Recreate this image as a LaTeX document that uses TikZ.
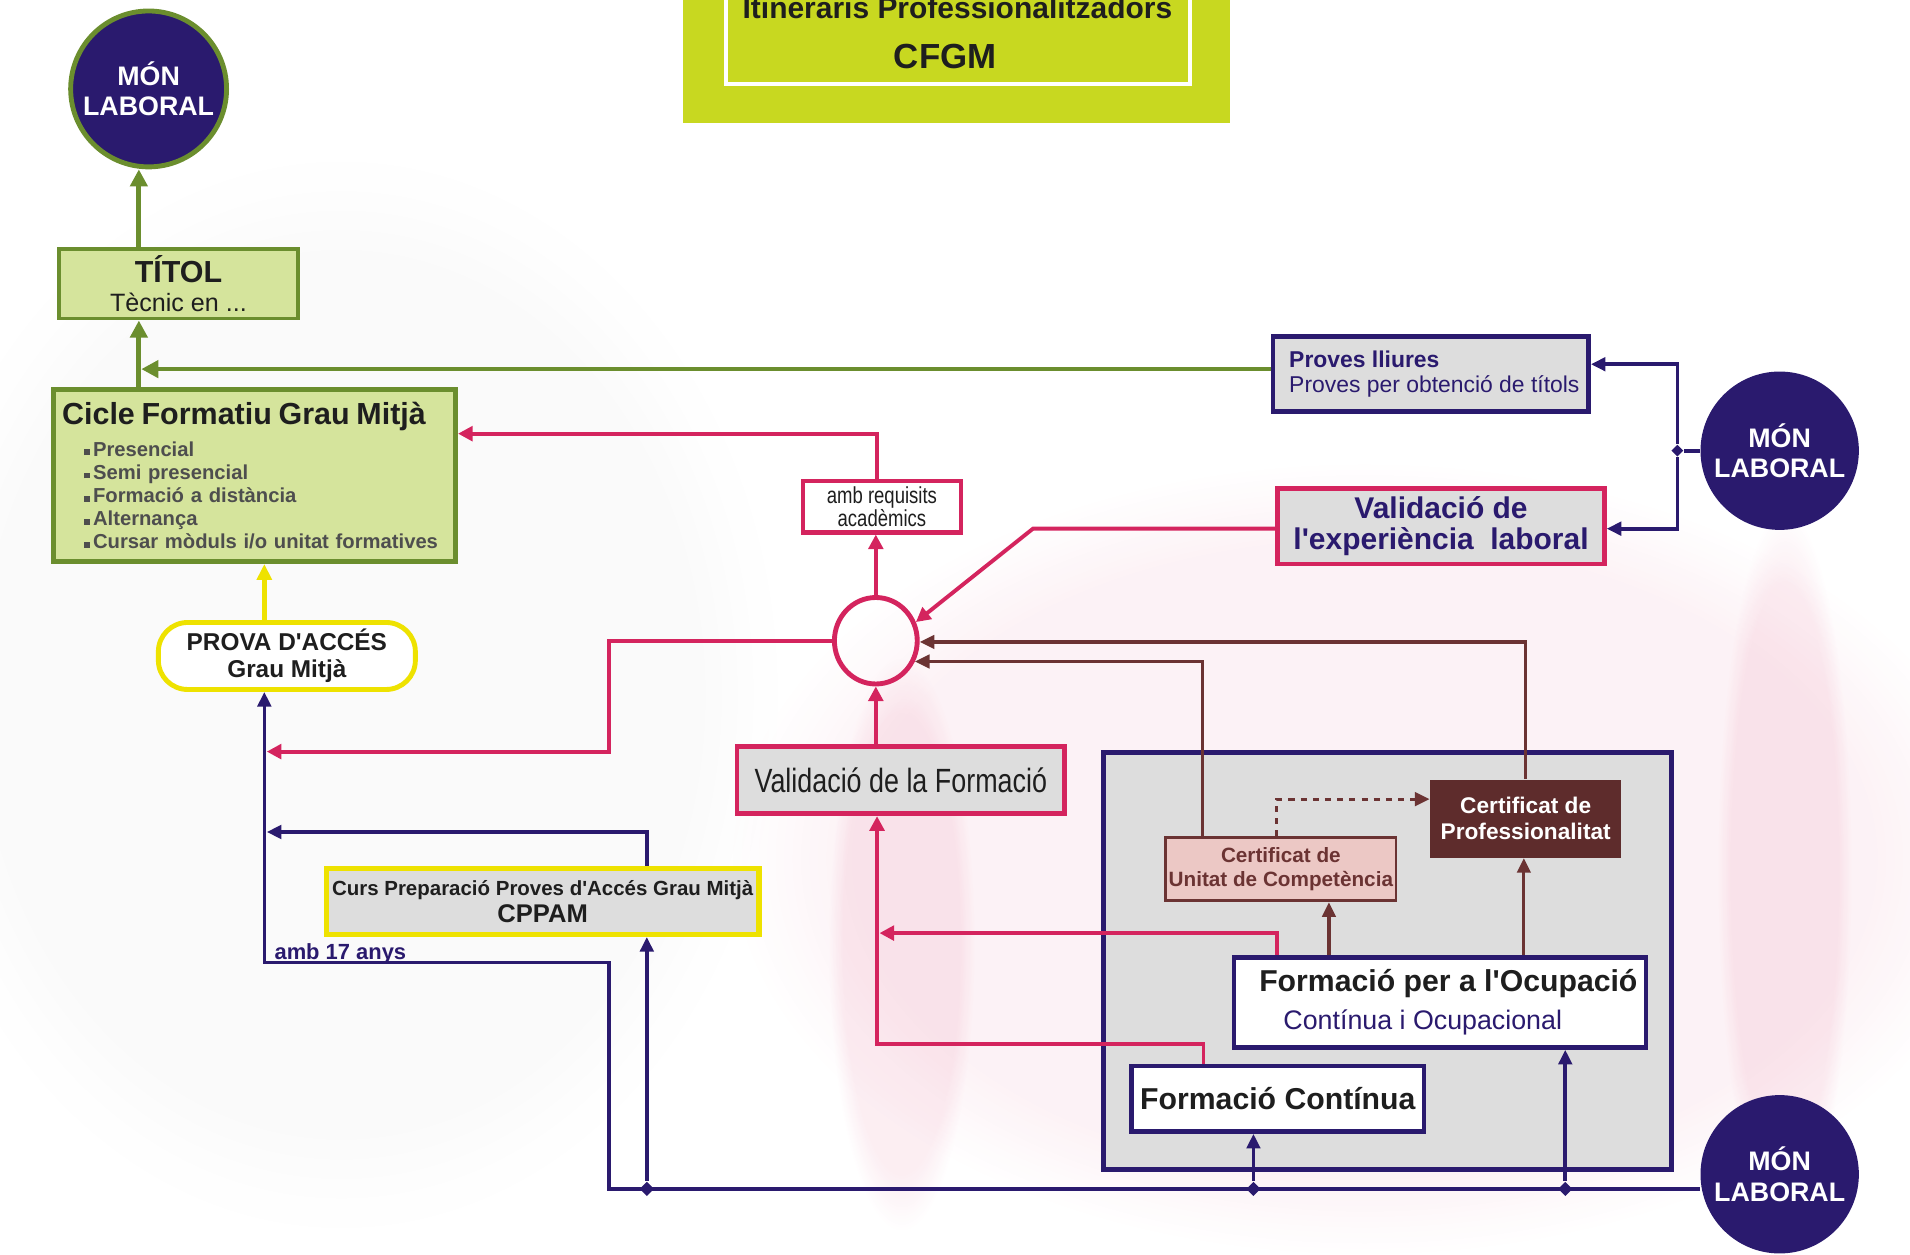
\documentclass[tikz,border=0pt]{standalone}
\usepackage{fontspec}
\setmainfont{Liberation Sans}
\newfontfamily\narr[FakeStretch=0.8]{Liberation Sans}
\usetikzlibrary{arrows.meta,shapes.geometric,fadings}
\definecolor{navy}{RGB}{42,26,110}
\definecolor{lgreen}{RGB}{213,228,156}
\definecolor{dgreen}{RGB}{107,142,46}
\definecolor{tgreen}{RGB}{200,216,32}
\definecolor{pinkc}{RGB}{212,36,94}
\definecolor{yel}{RGB}{238,226,0}
\definecolor{grayf}{RGB}{221,221,221}
\definecolor{brownd}{RGB}{94,44,44}
\definecolor{brownl}{RGB}{107,51,51}
\definecolor{pinkl}{RGB}{236,200,197}
\definecolor{txtgray}{RGB}{78,78,78}
\definecolor{txtdark}{RGB}{30,30,30}
\newcommand\bul{\rule[0.4pt]{2.4pt}{2.4pt}\hspace{1.3pt}}
\newcommand\ap{\textquotesingle}
\begin{document}
\begin{tikzpicture}[x=0.5pt,y=-0.5pt,
  every node/.style={inner sep=0pt,text=txtdark},
  mlc/.style={circle, fill=navy, text=white, align=center,
    font=\bfseries\fontsize{11}{12.5}\selectfont},
  ga/.style={draw=dgreen, line width=2pt, -{Triangle[length=7pt,width=7pt]}},
  pa/.style={draw=pinkc, line width=1.6pt, -{Triangle[length=6pt,width=6pt]}},
  na/.style={draw=navy, line width=1.5pt, -{Triangle[length=6pt,width=5.5pt]}},
  nl/.style={draw=navy, line width=1.5pt},
  ba/.style={draw=brownl, line width=1.3pt, -{Triangle[length=6pt,width=5.5pt]}},
  ya/.style={draw=yel, line width=2pt, -{Triangle[length=6.5pt,width=6pt]}},
  jdot/.style={diamond, fill=navy, minimum size=6pt},
]
\useasboundingbox (0,0) rectangle (1568,1030);
% faint watermark
\fill[gray, opacity=0.045, path fading=circle with fuzzy edge 20 percent] (-80,130) rectangle (640,1010);
\fill[pinkc, opacity=0.06, path fading=circle with fuzzy edge 20 percent] (600,380) rectangle (1640,1030);
\fill[pinkc, opacity=0.08, path fading=circle with fuzzy edge 20 percent] (680,540) rectangle (800,1010);
\fill[pinkc, opacity=0.08, path fading=circle with fuzzy edge 20 percent] (1410,420) rectangle (1520,1010);

% coordinates of columns and rows
\foreach \c in {114,116,217,219,500,531,720,722,848,987,988,1029,1048,1091,1251,1285}
  {\coordinate (c\c) at (\c,0);}
\foreach \r in {299,303,356,434,527,617,656,683,766,790,857,976}
  {\coordinate (r\r) at (0,\r);}

% title
\node[fill=tgreen, minimum width=224.5pt, minimum height=62pt] (title) at (785.5,39) {};
\draw[white, line width=1.5pt] (596,-10) rectangle (977,69);
\node[anchor=base, font=\bfseries\fontsize{12.3}{14}\selectfont] (t1) at (786,15) {Itineraris Professionalitzadors};
\node[anchor=base, font=\bfseries\fontsize{14.3}{16}\selectfont] (t2) at (776,56) {CFGM};

% circles
\node[mlc, draw=dgreen, line width=2pt, minimum size=64pt] (mltop) at (122,73) {MÓN\\LABORAL};
\node[mlc, minimum size=65pt] (mlmid) at (1461,370) {MÓN\\LABORAL};
\node[mlc, minimum size=65pt] (mlbot) at (1461,964) {MÓN\\LABORAL};

% green boxes
\node[draw=dgreen, fill=lgreen, line width=1.6pt, minimum width=98pt, minimum height=28.5pt,
  align=center, font=\fontsize{10.3}{12}\selectfont] (titol) at (146.5,233)
  {{\bfseries\fontsize{12.5}{12}\selectfont TÍTOL}\\Tècnic en ...};
\node[draw=dgreen, fill=lgreen, line width=2pt, minimum width=165pt, minimum height=70.5pt,
  text width=158pt, align=left, font=\bfseries\fontsize{8.3}{9.5}\selectfont] (cicle) at (209,390.5)
  {{\fontsize{12.5}{14}\selectfont Cicle Formatiu Grau Mitjà}\\[3.5pt]
   \color{txtgray}\hspace*{9pt}\bul Presencial\\
   \hspace*{9pt}\bul Semi presencial\\
   \hspace*{9pt}\bul Formació a distància\\
   \hspace*{9pt}\bul Alternança\\
   \hspace*{9pt}\bul Cursar mòduls i/o unitat formatives};

% yellow boxes
\node[draw=yel, fill=white, line width=2pt, rounded corners=12pt, minimum width=105.5pt,
  minimum height=27.5pt, align=center, font=\bfseries\fontsize{10}{11}\selectfont] (prova) at (235.5,538.5)
  {PROVA D\ap ACCÉS\\Grau Mitjà};
\node[draw=yel, fill=grayf, line width=2.2pt, minimum width=177.5pt, minimum height=27pt,
  align=center, font=\bfseries\fontsize{8.4}{11}\selectfont] (cppam) at (445.5,740)
  {Curs Preparació Proves d\ap Accés Grau Mitjà\\{\fontsize{10.5}{11}\selectfont CPPAM}};

% pink items
\node[draw=pinkc, fill=white, line width=1.8pt, minimum width=65pt, minimum height=21pt,
  align=center, font=\narr\fontsize{9.5}{9.5}\selectfont] (req) at (724,416) {amb requisits\\acadèmics};
\node[draw=pinkc, line width=2pt, ellipse, minimum width=34pt, minimum height=35.5pt] (pc) at (719,526) {};
\node[draw=pinkc, fill=grayf, line width=2pt, minimum width=134.5pt, minimum height=27.5pt,
  font=\narr\fontsize{13.8}{14}\selectfont] (valform) at (739.5,640.5) {Validació de la Formació};
\node[draw=pinkc, fill=grayf, line width=2pt, minimum width=134pt, minimum height=31pt,
  align=center, text=navy, font=\bfseries\fontsize{12.3}{13}\selectfont] (valexp) at (1183,432)
  {Validació de\\l\ap experiència\hspace{0.55em}laboral};
\node[draw=navy, fill=grayf, line width=2pt, minimum width=129.5pt, minimum height=31pt,
  align=left, text=navy, font=\fontsize{9.4}{10}\selectfont] (proves) at (1174.5,307)
  {\hspace*{3pt}\textbf{Proves lliures}\\\hspace*{3pt}Proves per obtenció de títols};

% gray area
\node[draw=navy, fill=grayf, line width=2pt, minimum width=233pt, minimum height=171pt] (gbox) at (1139,789) {};
\node[fill=brownd, text=white, minimum width=78.5pt, minimum height=32pt, align=center,
  font=\bfseries\fontsize{9.3}{10.5}\selectfont] (cp) at (1252.5,672) {Certificat de\\Professionalitat};
\node[draw=brownl, fill=pinkl, line width=1.2pt, minimum width=94.5pt, minimum height=26pt,
  align=center, text=brownl, font=\bfseries\fontsize{8.5}{10}\selectfont] (cuc) at (1051.5,713.5)
  {Certificat de\\Unitat de Competència};
\node[draw=navy, fill=white, line width=1.8pt, minimum width=169pt, minimum height=37pt,
  align=center, font=\bfseries\fontsize{12.4}{15.5}\selectfont] (fpo) at (1182,823)
  {\hspace*{7pt}Formació per a l\ap Ocupació\\{\mdseries\color{navy}\fontsize{11}{15.5}\selectfont Contínua i Ocupacional\hspace*{14pt}}};
\node[draw=navy, fill=white, line width=1.8pt, minimum width=120pt, minimum height=27pt,
  font=\bfseries\fontsize{12.4}{14}\selectfont] (fc) at (1049,902) {Formació Contínua};

% junctions
\node[jdot] (j1) at (531,976) {};
\node[jdot] (j2) at (1029,976) {};
\node[jdot] (j3) at (1285,976) {};
\node[jdot, minimum size=5pt] (j4) at (1377,370) {};

% green connectors
\draw[ga] (titol.north -| c114) -- (mltop.south -| c114);
\draw[ga] (cicle.north -| c114) -- (titol.south -| c114);
\draw[draw=dgreen, line width=1.8pt, -{Triangle[length=7pt,width=7pt]}] (proves.west |- r303) -- (c116 |- r303);

% pink connectors
\draw[pa] (req.north -| c720) |- (cicle.east |- r356);
\draw[pa] (pc.north) -- (req.south -| pc.north);
\draw[pa] (pc.west) -- (c500 |- pc.west) -- (c500 |- r617) -- (c219 |- r617);
\draw[pa] (valexp.west |- r434) -- (c848 |- r434) -- (pc.25);
\draw[pa] (valform.north -| pc.south) -- (pc.south);
\draw[pa] (fpo.north -| c1048) |- (c722 |- r766);
\draw[pa] (fc.north -| c988) |- (c720 |- r857) -- (valform.south -| c720);

% brown connectors
\draw[ba] (cp.north) |- (pc.east |- r527);
\draw[ba] (cuc.north -| c987) |- (pc.-28);
\draw[ba, dash pattern=on 2.5pt off 2.5pt] (cuc.north -| c1048) |- (cp.west |- r656);
\draw[ba] (fpo.north -| c1091) -- (cuc.south -| c1091);
\draw[ba] (fpo.north -| c1251) -- (cp.south -| c1251);

% navy connectors
\draw[na] (mlbot.west |- r976) -- (c500 |- r976) -- (c500 |- r790) -- (c217 |- r790) -- (prova.south -| c217);
\draw[na] (j1) -- (cppam.south -| j1);
\draw[na] (j2) -- (fc.south -| j2);
\draw[na] (j3) -- (fpo.south -| j3);
\draw[na] (cppam.north -| c531) |- (c219 |- r683);
\draw[nl] (mlmid.west) -- (j4);
\draw[na] (j4) |- (proves.east |- r299);
\draw[na] (j4) |- (valexp.east |- r434);
\node[anchor=base west, text=navy, font=\bfseries\fontsize{9}{9}\selectfont] (a17) at (225,788) {amb 17 anys};

% yellow connector
\draw[ya] (prova.north -| c217) -- (cicle.south -| c217);
\end{tikzpicture}
\end{document}
